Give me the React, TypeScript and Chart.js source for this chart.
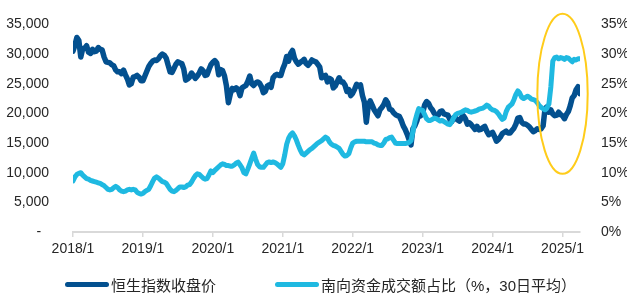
import React, { useEffect, useRef } from 'react';
import { Chart, registerables } from 'chart.js';

Chart.register(...registerables);

// Samples on the 1st, 11th and 21st of each month, starting January 2018
const startYear = 2018;
const samplesPerYear = 36;

const seriesNames = ['恒生指数收盘价', '南向资金成交额占比（%，30日平均）'];
const yearTicks = [2018, 2019, 2020, 2021, 2022, 2023, 2024, 2025];

// Hang Seng Index close
const hsi2018 = [30500, 31500, 32800, 32300, 29500, 30900, 31000, 31400, 30300, 30100, 30800, 30400, 30500, 31100, 30800, 30700, 29500, 28700, 28600, 28500, 28200, 28000, 27300, 27000, 27000, 26700, 27300, 26500, 25800, 24800, 25000, 26100, 26200, 26400, 26100, 25500];
const hsi2019 = [25500, 26300, 27100, 27900, 28400, 28800, 29000, 28900, 29200, 29700, 30000, 29800, 29300, 28100, 27000, 26900, 27600, 28300, 28700, 28500, 28400, 27500, 25600, 25800, 26100, 26800, 26400, 25900, 26300, 26800, 27500, 27200, 26400, 26500, 27400, 28200];
const hsi2020 = [28600, 28900, 28500, 26500, 27400, 27200, 26300, 24600, 21800, 23300, 24200, 24000, 24300, 24000, 23000, 24300, 24500, 24700, 25400, 26300, 25000, 24700, 25100, 25300, 25100, 24500, 23500, 23700, 24600, 24800, 24400, 26000, 26400, 26600, 26400, 26400];
const hsi2021 = [27500, 28300, 29600, 28800, 30100, 30600, 29300, 28700, 28300, 28600, 28800, 29100, 28400, 28100, 28500, 29000, 28800, 28700, 28300, 27800, 26000, 26200, 26400, 25300, 25900, 25700, 24300, 24600, 25300, 26000, 25300, 25300, 24800, 23700, 24000, 23000];
const hsi2022 = [23400, 24100, 24900, 24600, 24800, 23000, 21900, 18500, 21300, 22100, 21400, 20600, 20100, 19600, 20600, 21000, 21500, 22300, 21800, 20700, 20600, 20100, 19800, 19600, 19500, 18800, 17900, 17300, 16500, 15600, 14700, 17400, 17900, 18700, 19900, 19600];
const hsi2023 = [20100, 21400, 22000, 21700, 21000, 20600, 20000, 19600, 19700, 20300, 20400, 19900, 19800, 19700, 19000, 18600, 19300, 19200, 18900, 18700, 19300, 19600, 19100, 18200, 18400, 18100, 17700, 17300, 17800, 17200, 17300, 17600, 17800, 17000, 16400, 16600];
const hsi2024 = [16800, 16100, 15300, 15600, 16000, 16600, 16800, 17000, 16700, 16700, 17100, 17500, 18200, 19200, 19300, 18500, 18200, 18200, 18000, 17700, 17300, 16900, 17100, 17400, 17300, 17400, 17900, 20800, 21100, 20200, 20600, 19900, 19600, 19700, 20200, 19800];
const hsi2025 = [19600, 19100, 19800, 20300, 21300, 22600, 23000, 24000, 24500, 23300];

// Southbound share of turnover, 30-day average (%)
const share2018 = [8.6, 9.3, 9.7, 9.9, 10.0, 9.6, 9.3, 9.0, 8.9, 8.7, 8.6, 8.5, 8.4, 8.3, 8.2, 8.0, 7.8, 7.5, 7.2, 7.1, 7.2, 7.5, 7.7, 7.5, 7.1, 6.9, 6.8, 6.9, 7.1, 7.2, 7.1, 7.2, 7.1, 6.7, 6.5, 6.4];
const share2019 = [6.5, 6.8, 7.0, 7.2, 7.8, 8.5, 9.1, 9.3, 9.1, 8.8, 8.5, 8.4, 8.2, 7.7, 7.2, 6.9, 6.8, 7.0, 7.3, 7.6, 7.6, 7.5, 7.6, 7.9, 8.0, 8.4, 9.0, 9.5, 9.8, 9.7, 9.4, 9.1, 8.9, 9.0, 9.6, 10.3];
const share2020 = [10.0, 10.4, 10.7, 11.0, 11.3, 11.5, 11.4, 11.2, 11.2, 11.1, 11.1, 11.3, 11.6, 11.8, 11.3, 10.8, 10.0, 9.8, 10.6, 11.5, 12.4, 13.3, 12.3, 11.4, 11.0, 10.9, 10.9, 11.3, 11.7, 11.8, 11.7, 11.8, 11.7, 11.5, 11.2, 10.9];
const share2021 = [11.5, 13.0, 14.8, 15.8, 16.4, 16.7, 16.2, 15.5, 14.6, 13.8, 13.2, 13.0, 13.3, 13.6, 13.9, 14.1, 14.4, 14.7, 15.0, 15.2, 15.4, 15.7, 16.0, 15.8, 15.2, 14.8, 14.6, 14.5, 14.3, 14.1, 13.6, 13.1, 12.8, 12.9, 13.2, 14.2];
const share2022 = [15.0, 15.2, 15.3, 15.3, 15.3, 15.3, 15.3, 15.2, 15.2, 15.2, 15.2, 15.0, 14.9, 14.7, 14.6, 14.6, 15.0, 15.6, 15.7, 15.9, 16.0, 15.5, 15.0, 14.9, 14.9, 14.9, 14.9, 14.9, 15.0, 15.1, 15.4, 17.0, 18.6, 19.8, 20.8, 20.6];
const share2023 = [20.5, 19.8, 19.1, 18.8, 18.8, 19.0, 19.2, 19.1, 18.9, 18.7, 18.8, 18.6, 18.4, 18.2, 18.1, 18.6, 19.3, 19.8, 20.0, 20.1, 20.2, 20.4, 20.6, 20.5, 20.3, 20.2, 20.3, 20.4, 20.5, 20.7, 20.8, 20.9, 21.1, 21.4, 21.2, 20.8];
const share2024 = [20.6, 20.5, 20.3, 19.9, 19.4, 19.0, 19.2, 20.3, 21.0, 21.3, 21.6, 22.3, 23.2, 23.8, 23.4, 22.7, 22.5, 22.7, 22.9, 22.7, 22.4, 22.3, 22.2, 21.8, 21.3, 21.0, 20.8, 20.6, 20.9, 21.6, 24.5, 28.8, 29.4, 29.5, 29.2, 29.4];
const share2025 = [29.3, 29.1, 29.4, 29.3, 29.0, 28.7, 29.1, 29.0, 29.2, 29.2];

const hsiClose = [...hsi2018, ...hsi2019, ...hsi2020, ...hsi2021, ...hsi2022, ...hsi2023, ...hsi2024, ...hsi2025];
const southboundShare = [...share2018, ...share2019, ...share2020, ...share2021, ...share2022, ...share2023, ...share2024, ...share2025];

// Highlight ellipse (data coordinates on x / left axis)
const highlight = { x: 2025.0, y: 23300, rx: 0.36, ry: 13500 };

const DARK = '#03508f';
const LIGHT = '#1fb9e1';
const TEXT = '#262626';
const FONT_FAMILY = '"Liberation Sans", Arial, "Noto Sans CJK SC", sans-serif';

const toPoints = (vals: number[]) => vals.map((v, i) => ({ x: startYear + i / samplesPerYear, y: v }));

const ellipsePlugin = {
  id: 'highlightEllipse',
  afterDatasetsDraw(chart: any) {
    const { ctx, scales } = chart;
    const xs = scales.x;
    const ys = scales.y;
    const cx = xs.getPixelForValue(highlight.x);
    const cy = ys.getPixelForValue(highlight.y);
    const rx = Math.abs(xs.getPixelForValue(highlight.x + highlight.rx) - cx);
    const ry = Math.abs(ys.getPixelForValue(highlight.y + highlight.ry) - cy);
    ctx.save();
    ctx.beginPath();
    ctx.ellipse(cx, cy, rx, ry, 0, 0, Math.PI * 2);
    ctx.strokeStyle = '#ffcc1a';
    ctx.lineWidth = 2;
    ctx.stroke();
    ctx.restore();
  },
};

export default function App() {
  const ref = useRef<HTMLCanvasElement | null>(null);

  useEffect(() => {
    if (!ref.current) return;
    const font = { family: FONT_FAMILY, size: 14 };
    const chart = new Chart(ref.current, {
      type: 'line',
      data: {
        datasets: [
          {
            label: seriesNames[0],
            data: toPoints(hsiClose),
            yAxisID: 'y',
            borderColor: DARK,
            backgroundColor: DARK,
            borderWidth: 5.5,
            borderJoinStyle: 'round',
            borderCapStyle: 'round',
            pointRadius: 0,
            tension: 0,
            order: 1,
          },
          {
            label: seriesNames[1],
            data: toPoints(southboundShare),
            yAxisID: 'y1',
            borderColor: LIGHT,
            backgroundColor: LIGHT,
            borderWidth: 5,
            borderJoinStyle: 'round',
            borderCapStyle: 'round',
            pointRadius: 0,
            tension: 0,
            order: 0,
          },
        ],
      },
      options: {
        animation: false,
        responsive: false,
        devicePixelRatio: 1,
        layout: { padding: { top: 16, bottom: 0, left: 0, right: 0 } },
        plugins: { legend: { display: false }, tooltip: { enabled: false } },
        scales: {
          x: {
            type: 'linear',
            min: 2018,
            max: 2025.25,
            afterBuildTicks: (s: any) => {
              s.ticks = yearTicks.map((v) => ({ value: v }));
            },
            afterFit: (s: any) => {
              s.height = 65;
            },
            ticks: {
              callback: (v: any) => `${v}/1`,
              font,
              color: TEXT,
              padding: 4,
              maxRotation: 0,
              autoSkip: false,
            },
            grid: { drawOnChartArea: false, drawTicks: true, tickLength: 5, color: '#d9d9d9', lineWidth: 1.5 },
            border: { display: true, color: '#d9d9d9', width: 2 },
          },
          y: {
            position: 'left',
            min: 0,
            max: 35000,
            afterFit: (s: any) => {
              s.width = 73;
            },
            ticks: {
              stepSize: 5000,
              callback: (v: any) => (v === 0 ? '-  ' : Number(v).toLocaleString('en-US')),
              font,
              color: TEXT,
              padding: 16,
            },
            grid: { display: false },
            border: { display: false },
          },
          y1: {
            position: 'right',
            min: 0,
            max: 35,
            afterFit: (s: any) => {
              s.width = 47;
            },
            ticks: {
              stepSize: 5,
              callback: (v: any) => `${v}%`,
              font,
              color: TEXT,
              padding: 13,
            },
            grid: { display: false },
            border: { display: false },
          },
        },
      },
      plugins: [ellipsePlugin],
    } as any);
    return () => chart.destroy();
  }, []);

  const legendItem = (name: string, color: string, left: number) => (
    <div
      key={name}
      style={{
        position: 'absolute',
        left,
        top: 275,
        height: 19,
        display: 'flex',
        alignItems: 'center',
        whiteSpace: 'nowrap',
        fontFamily: FONT_FAMILY,
        fontSize: 15,
        color: TEXT,
      }}
    >
      <span style={{ display: 'inline-block', width: 44, height: 5, borderRadius: 3, background: color, marginRight: 2 }} />
      <span>{name}</span>
    </div>
  );

  return (
    <div style={{ position: 'fixed', left: 0, top: 0, width: 627, height: 297, background: '#fff' }}>
      <canvas ref={ref} width={627} height={297} style={{ display: 'block', width: 627, height: 297 }} />
      {legendItem(seriesNames[0], DARK, 65)}
      {legendItem(seriesNames[1], LIGHT, 275)}
    </div>
  );
}
